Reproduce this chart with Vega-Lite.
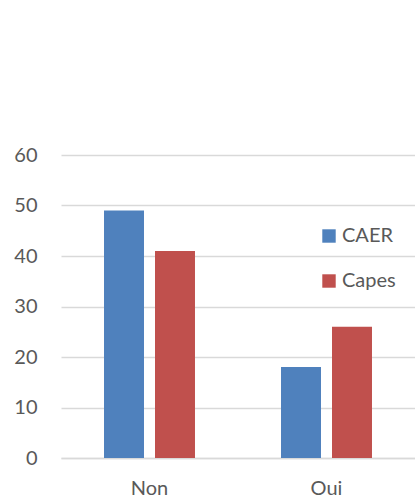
{
  "$schema": "https://vega.github.io/schema/vega-lite/v6.json",
  "autosize": {"type": "none"},
  "padding": {"left": 61, "top": 155, "right": 0, "bottom": 42},
  "width": 354,
  "height": 303,
  "background": "white",
  "data": {"values": [
    {"reponse": "Non", "serie": "CAER", "valeur": 49},
    {"reponse": "Non", "serie": "Capes", "valeur": 41},
    {"reponse": "Oui", "serie": "CAER", "valeur": 18},
    {"reponse": "Oui", "serie": "Capes", "valeur": 26}
  ]},
  "mark": {"type": "bar"},
  "encoding": {
    "x": {"field": "reponse", "type": "nominal", "title": null,
      "scale": {"paddingInner": 0.486, "paddingOuter": 0.243},
      "axis": {"labelAngle": 0, "ticks": false, "domainColor": "#d9d9d9", "domainWidth": 1.3, "labelFont": "Lato", "labelFontSize": 20, "labelColor": "#595959", "labelPadding": 20}},
    "xOffset": {"field": "serie", "type": "nominal", "scale": {"paddingInner": 0.216}},
    "y": {"field": "valeur", "type": "quantitative", "title": null,
      "scale": {"domain": [0, 60]},
      "axis": {"values": [0, 10, 20, 30, 40, 50, 60], "ticks": false, "domain": false, "gridColor": "#d9d9d9", "gridWidth": 1.3, "labelFont": "Lato", "labelFontSize": 20, "labelColor": "#595959", "labelPadding": 24}},
    "color": {"field": "serie", "type": "nominal",
      "scale": {"domain": ["CAER", "Capes"], "range": ["#4f81bd", "#c0504d"]},
      "legend": {"title": null, "orient": "none", "legendX": 258, "legendY": 71, "symbolType": "square", "symbolSize": 180, "symbolStrokeWidth": 0, "labelFont": "Lato", "labelFontSize": 20, "labelColor": "#595959", "labelOffset": 3, "rowPadding": 25}}
  },
  "config": {"view": {"stroke": null}}
}
